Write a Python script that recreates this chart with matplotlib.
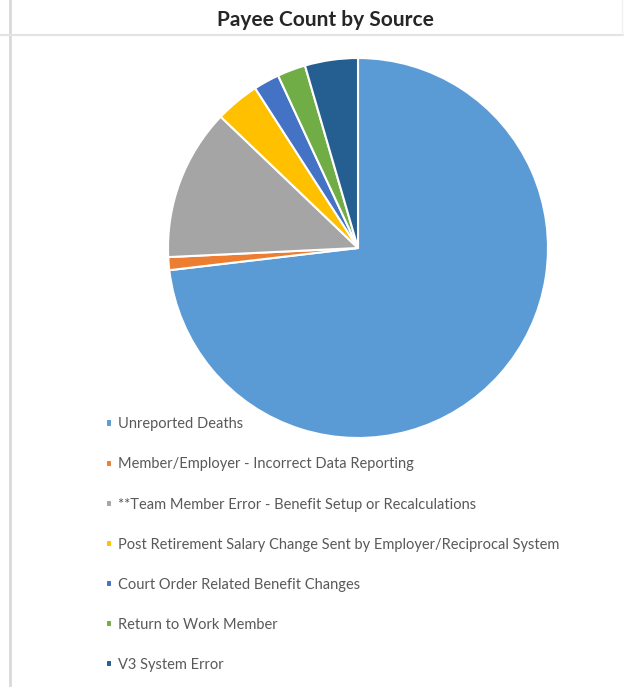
import matplotlib.pyplot as plt
from matplotlib.lines import Line2D

# Payee count by source (shares, in percent)
sources = [
    'Unreported Deaths',
    'Member/Employer - Incorrect Data Reporting',
    '**Team Member Error - Benefit Setup or Recalculations',
    'Post Retirement Salary Change Sent by Employer/Reciprocal System',
    'Court Order Related Benefit Changes',
    'Return to Work Member',
    'V3 System Error',
]
shares = [73.1, 1.1, 12.9, 3.75, 2.2, 2.4, 4.5]
colors = ['#5B9BD5', '#ED7D31', '#A5A5A5', '#FFC000', '#4472C4', '#70AD47', '#255E91']

W, H = 631, 687
fig = plt.figure(figsize=(W / 100, H / 100), dpi=100)

# frame lines of the screenshot
fig.add_artist(Line2D([10 / W, 10 / W], [0, 1], color='#d9d9d9', lw=2))
fig.add_artist(Line2D([0, 623 / W], [1 - 35 / H, 1 - 35 / H], color='#e3e3e3', lw=1.5))
fig.add_artist(Line2D([622 / W, 622 / W], [1 - 35 / H, 1], color='#f0f0f0', lw=1))

fig.text(325 / W, 1 - 20 / H, 'Payee Count by Source', ha='center', va='center',
         fontsize=15, fontweight='bold', color='#262626', family='Lato')

# pie: centre (358, 248) px, radius 190 px
r = 190
ax = fig.add_axes([(358 - r) / W, 1 - (248 + r) / H, 2 * r / W, 2 * r / H])
wedges, _ = ax.pie(shares, colors=colors, startangle=90, counterclock=False,
                   wedgeprops=dict(edgecolor='white', linewidth=1.5))
ax.set_xlim(-1, 1)
ax.set_ylim(-1, 1)
ax.set_aspect('equal')
ax.axis('off')

leg = fig.legend(wedges, sources, loc='upper left',
                 bbox_to_anchor=(99 / W, 1 - 410 / H), frameon=False,
                 handlelength=0.38, handleheight=0.38,
                 handletextpad=0.4, labelspacing=1.79, borderpad=0,
                 prop={'family': 'Lato', 'size': 10.5})
for t in leg.get_texts():
    t.set_color('#595959')

fig.savefig('out.png', dpi=100)
